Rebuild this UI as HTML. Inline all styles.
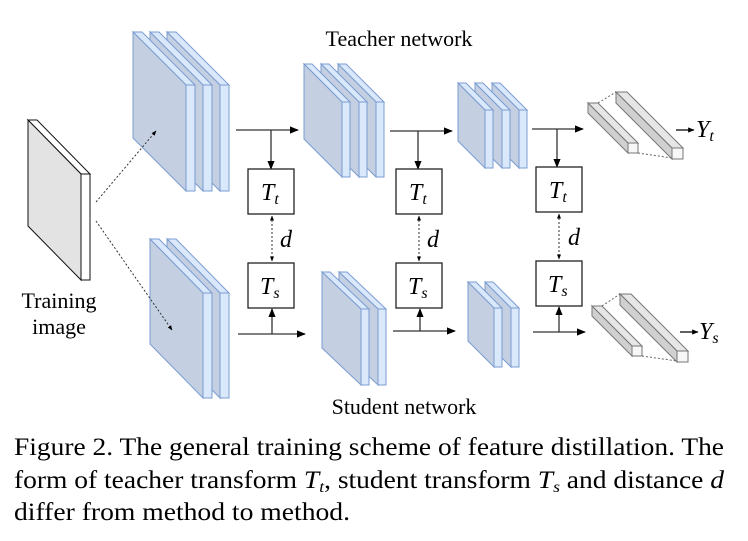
<!DOCTYPE html>
<html><head><meta charset="utf-8"><style>
html,body{margin:0;padding:0;background:#fff;}
svg{display:block;}
text{font-family:"Liberation Serif",serif;fill:#000;}
</style></head><body>
<svg width="748" height="541" viewBox="0 0 748 541" xmlns="http://www.w3.org/2000/svg">
<defs>
<marker id="ar" viewBox="0 0 10 10" refX="9" refY="5" markerWidth="7" markerHeight="7" orient="auto-start-reverse"><path d="M0,1 L10,5 L0,9 z" fill="#000"/></marker>
<marker id="as" viewBox="0 0 10 10" refX="9" refY="5" markerWidth="5" markerHeight="5" orient="auto-start-reverse"><path d="M0,1 L10,5 L0,9 z" fill="#000"/></marker>
<g id="A" stroke="#7b9cd0" stroke-width="1"><polygon points="0,0 9,0 62,53 53,53" fill="#dae8fc"/><polygon points="0,0 53,53 53,159 0,106" fill="#c4d0e2"/><rect x="53" y="53" width="9" height="106" fill="#dae8fc"/></g>
<g id="B" stroke="#7b9cd0" stroke-width="1"><polygon points="0,0 9,0 62,54 53,54" fill="#dae8fc"/><polygon points="0,0 53,54 53,159 0,105" fill="#c4d0e2"/><rect x="53" y="54" width="9" height="105" fill="#dae8fc"/></g>
<g id="C" stroke="#7b9cd0" stroke-width="1"><polygon points="0,0 8,0 46,38 38,38" fill="#dae8fc"/><polygon points="0,0 38,38 38,113 0,75" fill="#c4d0e2"/><rect x="38" y="38" width="8" height="75" fill="#dae8fc"/></g>
<g id="D" stroke="#7b9cd0" stroke-width="1"><polygon points="0,0 8,0 47,37 39,37" fill="#dae8fc"/><polygon points="0,0 39,37 39,113 0,76" fill="#c4d0e2"/><rect x="39" y="37" width="8" height="76" fill="#dae8fc"/></g>
<g id="E" stroke="#7b9cd0" stroke-width="1"><polygon points="0,0 8,0 35,27 27,27" fill="#dae8fc"/><polygon points="0,0 27,27 27,85 0,58" fill="#c4d0e2"/><rect x="27" y="27" width="8" height="58" fill="#dae8fc"/></g>
<g id="F" stroke="#7b9cd0" stroke-width="1"><polygon points="0,0 8,0 34,26 26,26" fill="#dae8fc"/><polygon points="0,0 26,26 26,85 0,59" fill="#c4d0e2"/><rect x="26" y="26" width="8" height="59" fill="#dae8fc"/></g>
</defs>

<!-- training image -->
<g transform="translate(28,120)" stroke="#111" stroke-width="1"><polygon points="0,0 9,0 62,54 53,54" fill="#fff"/><polygon points="0,0 53,54 53,160 0,106" fill="#e3e3e3"/><rect x="53" y="54" width="9" height="106" fill="#fff"/></g>

<use href="#A" x="167" y="32"/><use href="#A" x="150" y="32"/><use href="#A" x="133" y="32"/>
<use href="#B" x="167" y="239"/><use href="#B" x="150" y="239"/>
<use href="#C" x="338" y="64"/><use href="#C" x="321" y="64"/><use href="#C" x="304" y="64"/>
<use href="#D" x="339" y="272"/><use href="#D" x="322" y="272"/>
<use href="#E" x="492" y="83"/><use href="#E" x="475" y="83"/><use href="#E" x="458" y="83"/>
<use href="#F" x="485" y="282"/><use href="#F" x="468" y="282"/>

<!-- bars -->
<g stroke="#777" stroke-width="1">
<polygon points="616,92 627,92 683,148 672,148" fill="#e6e6e6"/><polygon points="616,92 672,148 672,159 616,103" fill="#d0d0d0"/><rect x="672" y="148" width="11" height="11" fill="#f7f7f7"/>
<polygon points="588,103 598,103 638,143 628,143" fill="#e6e6e6"/><polygon points="588,103 628,143 628,153 588,113" fill="#d0d0d0"/><rect x="628" y="143" width="10" height="10" fill="#f7f7f7"/>
<polygon points="620,294 631,294 688,351 677,351" fill="#e6e6e6"/><polygon points="620,294 677,351 677,362 620,305" fill="#d0d0d0"/><rect x="677" y="351" width="11" height="11" fill="#f7f7f7"/>
<polygon points="592,306 602,306 642,346 632,346" fill="#e6e6e6"/><polygon points="592,306 632,346 632,356 592,316" fill="#d0d0d0"/><rect x="632" y="346" width="10" height="10" fill="#f7f7f7"/>
</g>
<g stroke="#666" stroke-width="1" stroke-dasharray="2,2">
<line x1="598" y1="103" x2="616" y2="92"/><line x1="638" y1="153" x2="672" y2="158"/>
<line x1="602" y1="306" x2="620" y2="294"/><line x1="642" y1="356" x2="677" y2="361"/>
</g>

<g fill="none" stroke="#333" stroke-width="1.3">
<line x1="236" y1="130" x2="298" y2="130" marker-end="url(#ar)"/>
<line x1="271" y1="130" x2="271" y2="169" marker-end="url(#ar)"/>
<line x1="238" y1="334" x2="305" y2="334" marker-end="url(#ar)"/>
<line x1="272" y1="334" x2="272" y2="309" marker-end="url(#ar)"/>
<line x1="390" y1="131" x2="452" y2="131" marker-end="url(#ar)"/>
<line x1="418" y1="131" x2="418" y2="169" marker-end="url(#ar)"/>
<line x1="393" y1="331" x2="455" y2="331" marker-end="url(#ar)"/>
<line x1="420" y1="331" x2="420" y2="309" marker-end="url(#ar)"/>
<line x1="532" y1="129" x2="583" y2="129" marker-end="url(#ar)"/>
<line x1="557" y1="129" x2="557" y2="167" marker-end="url(#ar)"/>
<line x1="533" y1="332" x2="585" y2="332" marker-end="url(#ar)"/>
<line x1="559" y1="332" x2="559" y2="307" marker-end="url(#ar)"/>
<line x1="676" y1="130" x2="694" y2="130" stroke="#000" marker-end="url(#as)"/>
<line x1="680" y1="332" x2="698" y2="332" stroke="#000" marker-end="url(#as)"/>
</g>
<g fill="none" stroke="#333" stroke-width="1" stroke-dasharray="2,2">
<line x1="272" y1="216" x2="272" y2="261" marker-start="url(#as)" marker-end="url(#as)"/>
<line x1="419" y1="216" x2="419" y2="261" marker-start="url(#as)" marker-end="url(#as)"/>
<line x1="559" y1="214" x2="559" y2="259" marker-start="url(#as)" marker-end="url(#as)"/>
<line x1="96" y1="202" x2="156" y2="131" marker-end="url(#as)"/>
<line x1="96" y1="221" x2="172" y2="330" marker-end="url(#as)"/>
</g>
<g fill="#fff" stroke="#222" stroke-width="1.3">
<rect x="248" y="169" width="46" height="45"/><rect x="248" y="263" width="46" height="45"/>
<rect x="396" y="169" width="46" height="45"/><rect x="396" y="263" width="46" height="45"/>
<rect x="536" y="167" width="46" height="45"/><rect x="536" y="261" width="46" height="45"/>
</g>
<g font-style="italic" font-size="24">
<text x="261" y="200">T<tspan font-size="16" dy="4">t</tspan></text>
<text x="260" y="294">T<tspan font-size="16" dy="4">s</tspan></text>
<text x="409" y="200">T<tspan font-size="16" dy="4">t</tspan></text>
<text x="408" y="294">T<tspan font-size="16" dy="4">s</tspan></text>
<text x="549" y="198">T<tspan font-size="16" dy="4">t</tspan></text>
<text x="548" y="292">T<tspan font-size="16" dy="4">s</tspan></text>
<text x="280" y="247">d</text><text x="427" y="247">d</text><text x="568" y="245">d</text>
<text x="696" y="137">Y<tspan font-size="16" dy="4">t</tspan></text>
<text x="699" y="339">Y<tspan font-size="16" dy="4">s</tspan></text>
</g>
<text x="399" y="46" font-size="22" text-anchor="middle">Teacher network</text>
<text x="404" y="414" font-size="22" text-anchor="middle">Student network</text>
<text x="59" y="308" font-size="22" text-anchor="middle">Training</text>
<text x="59" y="334" font-size="22" text-anchor="middle">image</text>
<g font-size="25">
<text x="14" y="455" textLength="710" lengthAdjust="spacingAndGlyphs">Figure 2. The general training scheme of feature distillation. The</text>
<text x="14" y="488" textLength="710" lengthAdjust="spacingAndGlyphs">form of teacher transform <tspan font-style="italic">T</tspan><tspan font-style="italic" font-size="16" dy="4">t</tspan><tspan dy="-4">, student transform </tspan><tspan font-style="italic">T</tspan><tspan font-style="italic" font-size="16" dy="4">s</tspan><tspan dy="-4"> and distance </tspan><tspan font-style="italic">d</tspan></text>
<text x="14" y="520" textLength="336" lengthAdjust="spacingAndGlyphs">differ from method to method.</text>
</g>
</svg>
</body></html>
